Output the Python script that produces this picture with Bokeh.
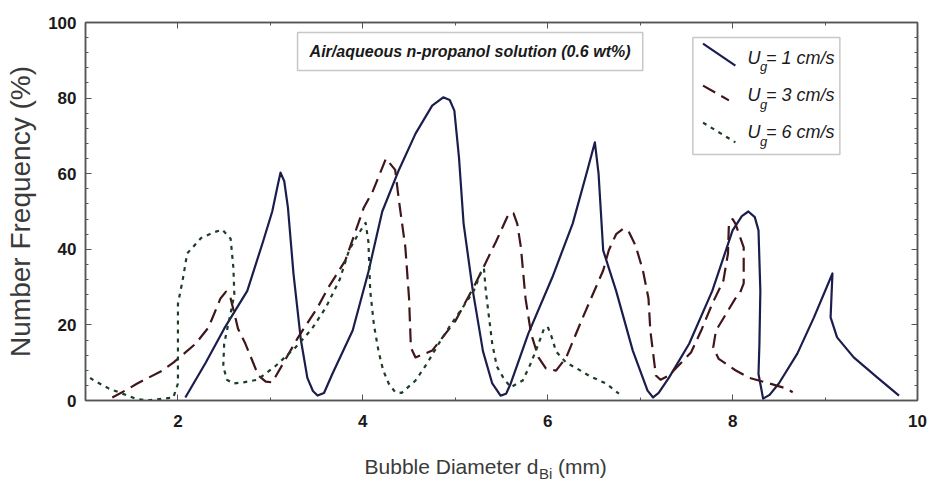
from bokeh.plotting import figure
from bokeh.layouts import column
from bokeh.models import LinearAxis, Label, BoxAnnotation, FixedTicker
from bokeh.core.properties import value
from bokeh.embed import file_html
from bokeh.resources import INLINE

# ---------------- data ----------------
ug1_x = [2.08, 2.30, 2.50, 2.75, 2.92, 3.02, 3.08, 3.11, 3.15, 3.19, 3.25, 3.33, 3.40, 3.46, 3.51,
         3.58, 3.67, 3.89, 4.06, 4.21, 4.39, 4.57, 4.75, 4.87, 4.94, 4.99, 5.04, 5.09, 5.19, 5.30,
         5.40, 5.49, 5.55, 5.60, 5.79, 6.05, 6.27, 6.43, 6.51, 6.55, 6.60, 6.74, 6.92, 7.08, 7.14,
         7.20, 7.31, 7.53, 7.78, 8.00, 8.10, 8.17, 8.24, 8.28, 8.30, 8.29, 8.28, 8.33, 8.40, 8.50,
         8.70, 8.88, 9.08, 9.06, 9.13, 9.31, 9.57, 9.80]
ug1_y = [0.8, 10.0, 19.0, 29.0, 42.0, 50.0, 57.0, 60.3, 58.0, 51.0, 33.5, 16.0, 6.0, 2.5, 1.3,
         2.0, 7.0, 18.5, 34.0, 50.0, 61.0, 70.6, 78.0, 80.2, 79.5, 76.7, 64.3, 46.8, 29.0, 13.0,
         4.5, 1.3, 1.8, 4.5, 17.7, 32.6, 46.8, 61.0, 68.3, 60.0, 39.7, 29.0, 13.2, 2.6, 0.8,
         2.0, 6.0, 15.0, 29.0, 45.0, 48.8, 50.0, 48.5, 45.0, 29.0, 15.0, 7.0, 0.5, 1.5, 4.5,
         12.4, 22.0, 33.6, 22.0, 16.7, 11.4, 6.0, 1.3]

ug3_x = [1.29, 1.45, 1.56, 1.83, 1.95, 2.19, 2.33, 2.46, 2.52, 2.57, 2.65, 2.73, 2.87, 2.95,
         3.02, 3.30, 3.51, 3.63, 3.81, 4.01, 4.11, 4.25, 4.35, 4.39, 4.46, 4.50, 4.52, 4.57,
         4.75, 5.00, 5.22, 5.44, 5.58, 5.63, 5.67, 5.71, 5.76, 5.82, 5.90, 5.98, 6.09, 6.20,
         6.38, 6.60, 6.66, 6.74, 6.82, 6.88, 6.95, 7.03, 7.09, 7.11, 7.17, 7.22, 7.31, 7.55,
         7.66, 7.78, 7.90, 7.95, 7.96, 8.00, 8.03, 8.07, 8.12, 8.12, 8.08, 8.03, 7.82, 7.79,
         7.85, 8.03, 8.18, 8.40, 8.58, 8.65]
ug3_y = [0.8, 2.9, 4.5, 7.9, 10.0, 15.0, 19.3, 27.0, 28.8, 27.0, 19.0, 15.0, 6.6, 5.0,
         4.8, 16.7, 24.6, 30.0, 37.0, 51.0, 55.5, 64.0, 61.0, 53.0, 40.5, 27.0, 14.0, 11.4,
         13.2, 21.0, 31.0, 42.0, 49.5, 49.5, 46.8, 40.5, 27.0, 17.7, 11.4, 8.5, 7.9, 11.4,
         22.0, 34.4, 39.7, 44.0, 45.5, 44.5, 41.0, 34.4, 27.0, 18.5, 6.6, 5.5, 6.6, 12.7,
         18.5, 25.6, 31.7, 38.9, 46.8, 48.0, 46.8, 44.0, 40.5, 31.0, 28.5, 27.0, 18.5, 14.0,
         11.0, 8.0, 6.0, 4.5, 3.2, 2.2]

ug6_x = [1.05, 1.09, 1.25, 1.54, 1.67, 1.95, 2.00, 2.00, 2.00, 2.05, 2.10, 2.25, 2.39, 2.48,
         2.57, 2.60, 2.61, 2.56, 2.50, 2.49, 2.53, 2.60, 2.71, 2.86, 3.05, 3.27, 3.45, 3.60,
         3.75, 3.85, 3.95, 4.03, 4.06, 4.08, 4.12, 4.17, 4.22, 4.28, 4.35, 4.42, 4.57, 4.70,
         4.82, 4.95, 5.08, 5.20, 5.28, 5.31, 5.33, 5.37, 5.40, 5.45, 5.52, 5.60, 5.73, 5.82,
         5.90, 5.96, 6.00, 6.04, 6.09, 6.20, 6.30, 6.45, 6.63, 6.77]
ug6_y = [6.0, 5.3, 3.2, 0.5, 0.0, 0.8, 4.5, 15.0, 25.6, 31.7, 38.9, 43.0, 44.5, 45.2,
         42.8, 35.0, 28.0, 22.0, 15.0, 9.0, 5.5, 4.5, 4.8, 5.5, 9.0, 14.0, 19.0, 24.6,
         32.0, 39.7, 44.0, 47.0, 42.0, 29.0, 20.0, 13.0, 8.0, 4.5, 2.2, 2.0, 5.3, 10.0,
         15.0, 20.0, 24.6, 29.0, 34.0, 35.0, 29.0, 21.0, 15.0, 9.0, 6.0, 3.5, 5.3, 10.0,
         15.0, 19.0, 19.5, 17.0, 13.0, 10.0, 8.7, 6.5, 4.5, 1.8]

x_ticks = [2, 4, 6, 8, 10]
x_minor = [3, 5, 7, 9]
y_ticks = [0, 20, 40, 60, 80, 100]
y_minor = [v for v in range(0, 101, 4) if v % 20]
ug_values = ["1", "3", "6"]

title_text = "Air/aqueous n-propanol solution (0.6 wt%)"
ylabel_text = "Number Frequency (%)"
xlabel_main = "Bubble Diameter d"
xlabel_sub = "Bi"
xlabel_unit = " (mm)"

# ---------------- styles ----------------
SANS = "Liberation Sans"
AX = "#555555"
TXT = "#1a1a1a"
LBL = "#3a3a3a"
colors = ["#1b1e4c", "#40161a", "#1d3e26"]
dashes = ["solid", "14 7", "4 5"]

p = figure(width=929, height=450, x_range=(1, 10), y_range=(0, 100),
           output_backend="svg", toolbar_location=None,
           min_border_left=85, min_border_right=12, min_border_top=22, min_border_bottom=50)
p.grid.visible = False
p.outline_line_color = AX
p.outline_line_width = 1.5

xt = FixedTicker(ticks=x_ticks, minor_ticks=x_minor)
yt = FixedTicker(ticks=y_ticks, minor_ticks=y_minor)

def style_axis(ax, ticks):
    ax.axis_line_color = AX
    ax.axis_line_width = 1.5
    ax.major_tick_line_color = AX
    ax.minor_tick_line_color = AX
    ax.major_tick_in = 6
    ax.major_tick_out = 0
    ax.minor_tick_in = 3
    ax.minor_tick_out = 0
    ax.major_label_text_font = SANS
    ax.major_label_text_font_style = "bold"
    ax.major_label_text_font_size = "17px"
    ax.major_label_text_color = TXT
    if ticks is not None:
        # mirrored axis: ticks only, no labels
        ax.major_label_overrides = {t: "" for t in ticks}
        ax.major_label_standoff = 0

p.xaxis.ticker = xt
p.yaxis.ticker = yt
style_axis(p.xaxis[0], None)
style_axis(p.yaxis[0], None)
p.xaxis.major_label_standoff = 14
p.yaxis.major_label_standoff = 9
p.yaxis.axis_label = ylabel_text
p.yaxis.axis_label_text_font = SANS
p.yaxis.axis_label_text_font_style = "normal"
p.yaxis.axis_label_text_font_size = "28px"
p.yaxis.axis_label_text_color = LBL
p.yaxis.axis_label_standoff = 9

top = LinearAxis(ticker=xt)
style_axis(top, x_ticks)
p.add_layout(top, "above")
right = LinearAxis(ticker=yt)
style_axis(right, y_ticks)
p.add_layout(right, "right")

series = [(ug1_x, ug1_y), (ug3_x, ug3_y), (ug6_x, ug6_y)]
for (xs, ys), c, d in zip(series, colors, dashes):
    p.line(xs, ys, line_color=c, line_width=2.2, line_dash=d, line_join="round")

# title box
p.add_layout(BoxAnnotation(left=3.294, right=7.028, bottom=87.3, top=97.35,
                           fill_alpha=0, line_color="#444444", line_width=1.5))
p.add_layout(Label(x=5.16, y=92.3, text=title_text, text_align="center",
                   text_baseline="middle", text_font=SANS, text_font_style="bold italic",
                   text_font_size="16px", text_color=TXT))

# custom legend
p.add_layout(BoxAnnotation(left=7.57, right=9.16, bottom=65.1, top=96.0,
                           fill_alpha=0, line_color="#444444", line_width=1.5))
rows_y = [90.7, 80.7, 70.9]
seg = [((7.68, 94.4), (8.03, 88.6)), ((7.68, 83.3), (7.96, 79.4)), ((7.68, 73.5), (8.03, 68.3))]
for (a, b), c, d, ry, v in zip(seg, colors, dashes, rows_y, ug_values):
    p.line([a[0], b[0]], [a[1], b[1]], line_color=c, line_width=2.2, line_dash=d)
    p.add_layout(Label(x=8.16, y=ry, text="U", text_align="left", text_baseline="middle",
                       text_font=SANS, text_font_style="italic", text_font_size="18px",
                       text_color=TXT))
    p.add_layout(Label(x=8.295, y=ry - 2.4, text="g", text_align="left", text_baseline="middle",
                       text_font=SANS, text_font_style="italic", text_font_size="13px",
                       text_color=TXT))
    p.add_layout(Label(x=8.36, y=ry, text="= " + v + " cm/s", text_align="left",
                       text_baseline="middle", text_font=SANS, text_font_style="italic",
                       text_font_size="18px", text_color=TXT))

# x-axis label strip (shares the x scale of the plot)
q = figure(width=929, height=44, x_range=p.x_range, y_range=(0, 44),
           output_backend="svg", toolbar_location=None, x_axis_type=None, y_axis_type=None,
           min_border_left=85, min_border_right=12, min_border_top=0, min_border_bottom=0)
q.grid.visible = False
q.outline_line_color = None
q.text(x=[5.90], y=[28], text=[xlabel_main], text_align="right", text_baseline="middle",
       text_font=value(SANS), text_font_size="21px", text_color=LBL)
q.text(x=[5.905], y=[21], text=[xlabel_sub], text_align="left", text_baseline="middle",
       text_font=value(SANS), text_font_size="15px", text_color=LBL)
q.text(x=[6.11], y=[28], text=[xlabel_unit], text_align="left", text_baseline="middle",
       text_font=value(SANS), text_font_size="21px", text_color=LBL)

open("out.html", "w").write(file_html(column(p, q, spacing=0), INLINE))
